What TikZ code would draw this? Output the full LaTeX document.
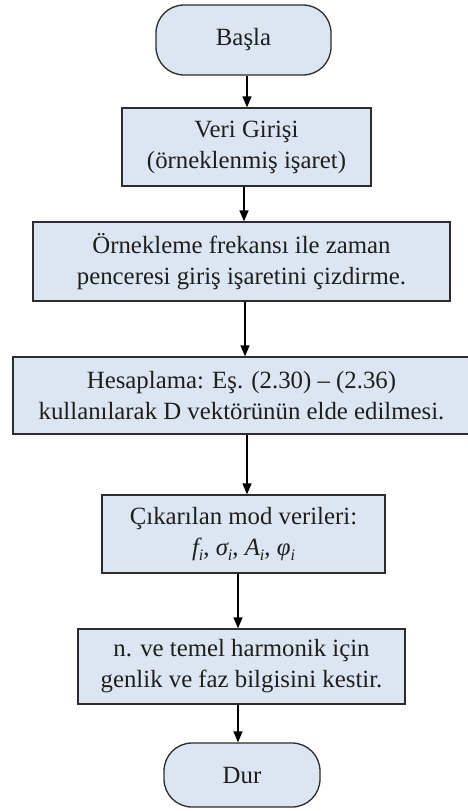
\documentclass[tikz,border=0pt]{standalone}
\usepackage{fontspec}
\setmainfont{Liberation Serif}
\usetikzlibrary{arrows.meta}
\definecolor{boxfill}{RGB}{220,230,242}
\definecolor{boxline}{RGB}{45,45,45}
\definecolor{txt}{RGB}{30,30,30}
\newcommand\subi{\raisebox{-0.45ex}{\fontsize{16}{16}\selectfont\itshape i}}
\begin{document}
\begin{tikzpicture}[x=1pt,y=-1pt,
  proc/.style={draw=boxline, fill=boxfill, line width=1.3pt, inner sep=0pt, align=center,
    text=txt, font=\fontsize{24.8}{31}\selectfont},
  term/.style={proc, rounded corners=28pt},
  flow/.style={draw=black, line width=1.3pt, -{Triangle[length=11pt,width=9pt]}}]
\useasboundingbox (0,0) rectangle (468,811);
\fill[white] (0,0) rectangle (468,811);

\node[term, minimum width=175pt, minimum height=70pt] (basla) at (243.5,40) {Başla};
\node[proc, minimum width=249pt, minimum height=78pt] (veri) at (246.5,147) {Veri Girişi\\(örneklenmiş işaret)};
\node[proc, minimum width=417pt, minimum height=79pt] (ornek) at (241.5,261.5) {Örnekleme frekansı ile zaman\\penceresi giriş işaretini çizdirme.};
\node[proc, minimum width=457pt, minimum height=77pt] (hesap) at (241.5,395.5) {Hesaplama: Eş. (2.30) – (2.36)\\kullanılarak D vektörünün elde edilmesi.};
\node[proc, minimum width=283pt, minimum height=78pt] (cikar) at (243.5,534) {Çıkarılan mod verileri:\\{\itshape f}\subi, {\itshape σ}\subi, {\itshape A}\subi, {\itshape φ}\subi};
\node[proc, minimum width=327pt, minimum height=75pt] (nve) at (241.5,666.5) {n. ve temel harmonik için\\genlik ve faz bilgisini kestir.};
\node[term, minimum width=156pt, minimum height=64pt] (dur) at (242,775) {Dur};

\coordinate (a1) at (247,0);
\coordinate (a2) at (244,0);
\coordinate (a3) at (245,0);
\coordinate (a4) at (247,0);
\coordinate (a5) at (238,0);
\coordinate (a6) at (238,0);
\draw[flow] (basla.south -| a1) -- (veri.north -| a1);
\draw[flow] (veri.south -| a2) -- (ornek.north -| a2);
\draw[flow] (ornek.south -| a3) -- (hesap.north -| a3);
\draw[flow] (hesap.south -| a4) -- (cikar.north -| a4);
\draw[flow] (cikar.south -| a5) -- (nve.north -| a5);
\draw[flow] (nve.south -| a6) -- (dur.north -| a6);
\end{tikzpicture}
\end{document}
